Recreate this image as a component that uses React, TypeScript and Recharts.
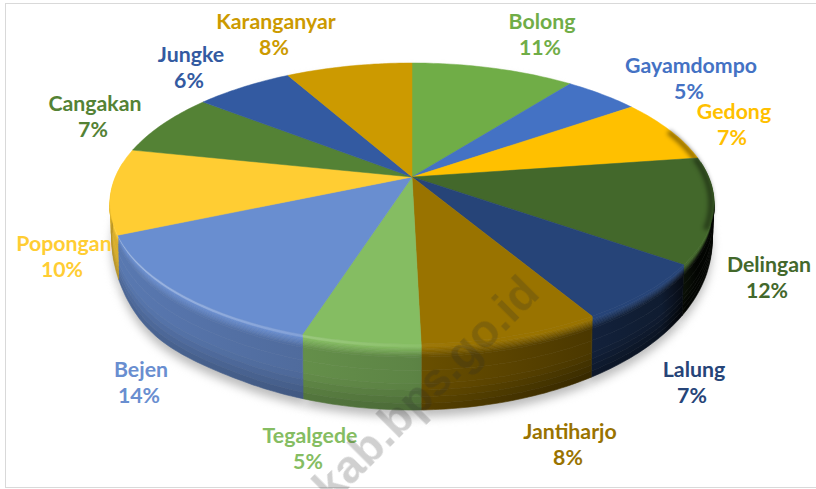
import React from 'react';
import { PieChart, Pie } from 'recharts';

const desa = ['Bolong', 'Gayamdompo', 'Gedong', 'Delingan', 'Lalung', 'Jantiharjo', 'Tegalgede', 'Bejen', 'Popongan', 'Cangakan', 'Jungke', 'Karanganyar'];
const persen = [10.5, 4.8, 7.4, 12.1, 6.7, 8.1, 5.3, 13.6, 9.8, 7.3, 6.3, 8.1];
const warna = ['#70ad47', '#4472c4', '#ffc000', '#43682b', '#264478', '#997300', '#85bd62', '#698ed0', '#ffcd33', '#548235', '#335aa1', '#cc9a00'];

const data = desa.map((name, i) => ({ name, value: persen[i], fill: warna[i] }));

// label centres as placed in the original chart
const labelPos = [
    [542, 22], [691, 66], [734, 112], [769, 265], [694, 370], [570, 432],
    [310, 436], [141, 370], [64, 244], [95, 104], [191, 55], [276, 22],
];

const TILT = 135.5 / 296.6;
const PERSP = 0.1886;

// flat circle -> tilted disc with a bit of perspective, t = how far down the side wall
function project(cx: number, cy: number, r: number, deg: number, t = 0) {
    const rad = (deg * Math.PI) / 180;
    const u = Math.cos(rad);
    const v = -Math.sin(rad);
    const d = 1 - PERSP * v;
    const x = cx + (r * u) / d;
    const y = cy + (r * TILT * v) / d;
    const drop = Math.max(0, 30 + 36 * v) * t;
    // lower-left of the wall bulges out a little in the original
    const bump = v > 0 ? Math.max(0, 1 - Math.abs(u + 0.72) / 0.25) : 0;
    return { x: cx + (x - cx) * (1 - 0.006 * t) - bump * bump * (3 - 2 * bump) * 7 * t, y: y + drop, u, v };
}

function angleSteps(start: number, end: number, step: number) {
    const n = Math.max(1, Math.ceil(Math.abs(end - start) / step));
    return Array.from({ length: n + 1 }, (_, i) => start + ((end - start) * i) / n);
}

function mix(hex: string, target: number, amount: number) {
    const n = parseInt(hex.slice(1), 16);
    const ch = [(n >> 16) & 255, (n >> 8) & 255, n & 255].map((c) => Math.round(c + (target - c) * amount));
    return `rgb(${ch[0]},${ch[1]},${ch[2]})`;
}

function wallColor(fill: string, u: number, t: number) {
    const glow = Math.max(0, 0.06 - u * 0.3);
    if (t < 0.05) return mix(fill, 255, glow);
    let dark = u > 0 ? 0.3 + 0.35 * u : 0.3 + 0.15 * u;
    if (u > 0.84) dark += ((Math.min(u, 1) - 0.84) / 0.16) * 0.45;
    if (t < 0.2) dark *= (t - 0.05) / 0.15;
    if (t > 0.6) dark += ((t - 0.6) / 0.4) * 0.15;
    return mix(fill, 0, Math.min(dark, 0.95));
}

const bands = [0, 0.05, 0.07, 0.09, 0.11, 0.13, 0.15, 0.17, 0.2, 0.4, 0.6, 0.7, 0.8, 0.9, 1];
const gradientU = [-1, -0.8, -0.6, -0.4, -0.2, 0, 0.2, 0.4, 0.6, 0.7, 0.8, 0.84, 0.88, 0.92, 0.96, 1];

function TopFace(props: any) {
    const { cx, cy, outerRadius, startAngle, endAngle, fill } = props;
    const angles = angleSteps(startAngle, endAngle, 1);
    const pts = angles.map((a) => project(cx, cy, outerRadius, a));
    const d = `M${cx},${cy}` + pts.map((p) => `L${p.x.toFixed(1)},${p.y.toFixed(1)}`).join('') + 'Z';
    // the far right of the rim rolls off into shadow
    const edge = angles.map((a) => project(cx, cy, outerRadius - 3, a)).filter((p) => p.u > 0.93);
    return (
        <g>
            <path d={d} fill={fill} stroke={fill} strokeWidth={0.5} />
            {edge.length > 1 && (
                <path
                    d={edge.map((p, i) => `${i ? 'L' : 'M'}${p.x.toFixed(1)},${p.y.toFixed(1)}`).join('')}
                    fill="none"
                    stroke="#000"
                    strokeOpacity={0.45}
                    strokeWidth={5}
                    style={{ filter: 'blur(2px)' }}
                />
            )}
        </g>
    );
}

function SideWall(props: any) {
    const { cx, cy, outerRadius, startAngle, endAngle, fill, index } = props;
    const angles = angleSteps(startAngle, endAngle, 1).filter((a) => project(cx, cy, outerRadius, a).v > -0.12);
    if (angles.length < 2) return null;
    const rimAt = (t: number) => angles.map((a) => project(cx, cy, outerRadius, a, t));
    const x0 = cx - outerRadius;
    const span = 2 * outerRadius;
    return (
        <g style={{ filter: 'blur(0.7px)' }}>
            <defs>
                {bands.slice(0, -1).map((b, k) => {
                    const tMid = (b + bands[k + 1]) / 2;
                    return (
                        <linearGradient key={k} id={`wall-${index}-${k}`} gradientUnits="userSpaceOnUse" x1={x0} x2={x0 + span} y1={0} y2={0}>
                            {gradientU.map((u) => (
                                <stop key={u} offset={(u + 1) / 2} stopColor={wallColor(fill, u, tMid)} />
                            ))}
                        </linearGradient>
                    );
                })}
            </defs>
            {bands.slice(0, -1).map((b, k) => {
                const upper = rimAt(b);
                const lower = rimAt(bands[k + 1]).reverse();
                const pts = [...upper, ...lower].map((q) => `${q.x.toFixed(1)},${q.y.toFixed(1)}`).join(' ');
                return <polygon key={k} points={pts} fill={`url(#wall-${index}-${k})`} stroke={`url(#wall-${index}-${k})`} strokeWidth={0.6} />;
            })}
        </g>
    );
}

function Shadow(props: any) {
    const { cx, cy, outerRadius, startAngle, endAngle } = props;
    const pts = angleSteps(startAngle, endAngle, 2).map((a) => project(cx, cy, outerRadius, a, 1));
    const d = `M${cx},${cy + 40}` + pts.map((p) => `L${p.x.toFixed(1)},${(p.y + 7).toFixed(1)}`).join('') + 'Z';
    return <path d={d} fill="#bcbcbc" style={{ filter: 'blur(5px)' }} />;
}

function renderLabel(props: any) {
    const { index, payload, percent } = props;
    const [x, y] = labelPos[index];
    const fill = warna[index];
    return (
        <g>
            <text x={x} y={y + 7} textAnchor="middle" fill={fill} fontFamily="Lato, sans-serif" fontWeight={700} fontSize={21.3}>
                {desa[index]}
            </text>
            <text x={x - 2} y={y + 33} textAnchor="middle" fill={fill} fontFamily="Lato, sans-serif" fontWeight={700} fontSize={21.3}>
                {`${Math.round((percent ?? payload.value / 100) * 100)}%`}
            </text>
        </g>
    );
}

export default function App() {
    return (
        <div style={{ position: 'absolute', left: 0, top: 0, width: 816, height: 489, overflow: 'hidden', background: '#fff' }}>
            {/* bingkai abu-abu */}
            <div
                style={{
                    position: 'absolute',
                    left: 5,
                    top: 3,
                    width: 830,
                    height: 483,
                    border: '1px solid #d9d9d9',
                }}
            />
            <PieChart width={816} height={489} margin={{ top: 0, right: 0, bottom: 0, left: 0 }} style={{ position: 'absolute', left: 0, top: 0 }}>
                <Pie data={data} dataKey="value" nameKey="name" cx={412} cy={177} outerRadius={296.6} startAngle={90} endAngle={-270} stroke="none" isAnimationActive={false} shape={Shadow} />
                <Pie data={data} dataKey="value" nameKey="name" cx={412} cy={177} outerRadius={296.6} startAngle={90} endAngle={-270} stroke="none" isAnimationActive={false} shape={SideWall} />
                <Pie data={data} dataKey="value" nameKey="name" cx={412} cy={177} outerRadius={296.6} startAngle={90} endAngle={-270} stroke="none" isAnimationActive={false} shape={TopFace} label={renderLabel} labelLine={false} />
            </PieChart>
            {/* watermark sits over everything */}
            <svg width={816} height={489} style={{ position: 'absolute', left: 0, top: 0, pointerEvents: 'none' }}>
                <text
                    x={332}
                    y={505}
                    transform="rotate(-45 332 505)"
                    fill="rgba(40,40,40,0.22)"
                    fontFamily="Liberation Sans, sans-serif"
                    fontWeight={700}
                    fontSize={46}
                    style={{ filter: 'blur(0.6px)' }}
                >
                    kab.bps.go.id
                </text>
            </svg>
        </div>
    );
}
